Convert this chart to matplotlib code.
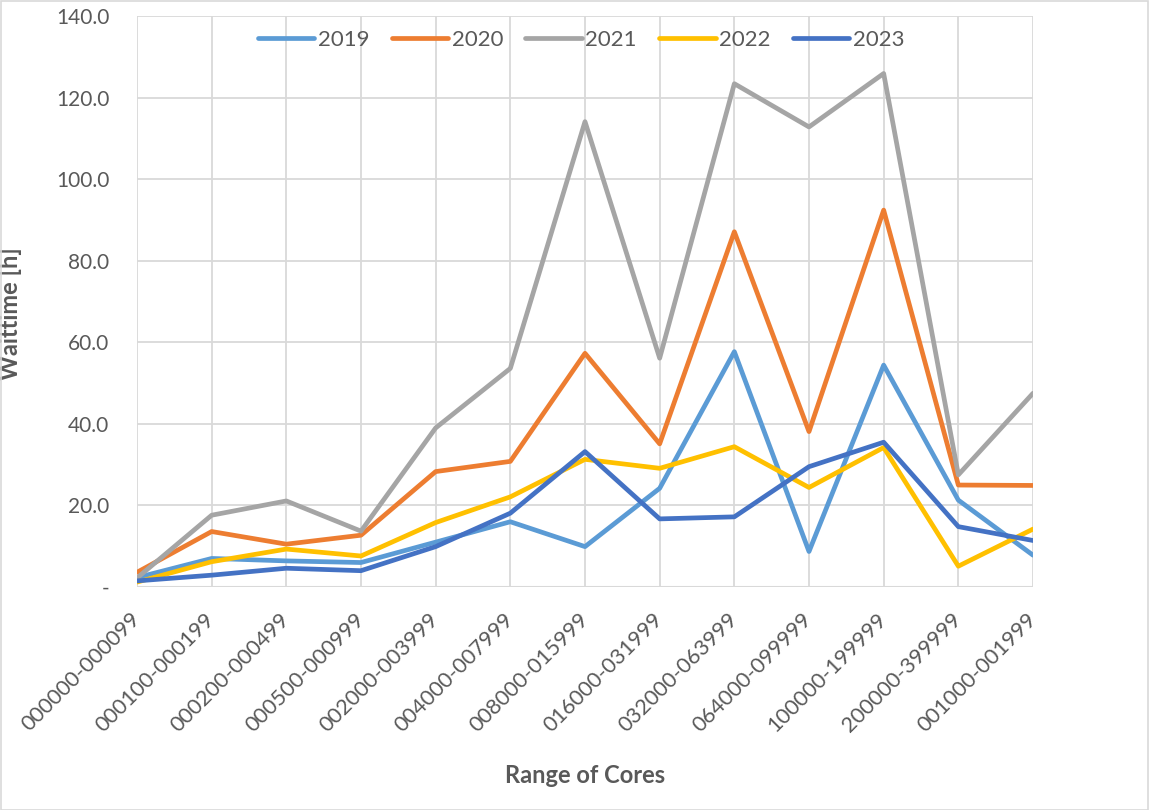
import matplotlib
matplotlib.use("Agg")
import matplotlib.pyplot as plt
from matplotlib.ticker import FuncFormatter

plt.rcParams['font.family'] = ['Lato', 'DejaVu Sans']

categories = ["000000-000099", "000100-000199", "000200-000499", "000500-000999",
              "002000-003999", "004000-007999", "008000-015999", "016000-031999",
              "032000-063999", "064000-099999", "100000-199999", "200000-399999",
              "001000-001999"]

years = ["2019", "2020", "2021", "2022", "2023"]

wait_2019 = [2.3, 7.0, 6.4, 6.0, 11.0, 16.0, 9.9, 24.2, 57.7, 8.7, 54.4, 21.3, 7.8]
wait_2020 = [3.6, 13.6, 10.5, 12.7, 28.3, 30.8, 57.3, 35.1, 87.1, 38.1, 92.4, 25.0, 24.9]
wait_2021 = [2.2, 17.6, 21.1, 13.7, 39.0, 53.6, 114.1, 56.1, 123.4, 112.8, 125.9, 27.5, 47.5]
wait_2022 = [1.2, 6.2, 9.3, 7.6, 15.8, 22.1, 31.3, 29.1, 34.4, 24.4, 34.2, 5.1, 14.2]
wait_2023 = [1.5, 2.9, 4.6, 4.0, 9.9, 18.1, 33.2, 16.7, 17.2, 29.5, 35.5, 14.8, 11.4]

series = [wait_2019, wait_2020, wait_2021, wait_2022, wait_2023]
colors = ["#5B9BD5", "#ED7D31", "#A5A5A5", "#FFC000", "#4472C4"]

W, H = 1149, 810
fig = plt.figure(figsize=(W / 100, H / 100), dpi=100)
fig.patch.set_facecolor("white")

# chart-area border
fig.add_artist(plt.Rectangle((0.5 / W, 0.5 / H), 1 - 1.5 / W, 1 - 1.5 / H,
                             transform=fig.transFigure, fill=False,
                             edgecolor="#D9D9D9", linewidth=1.2))

left, right, top, bottom = 137, 1033, 16, 587
ax = fig.add_axes([left / W, 1 - bottom / H, (right - left) / W, (bottom - top) / H])

x = list(range(len(categories)))
for yr, vals, c in zip(years, series, colors):
    ax.plot(x, vals, color=c, linewidth=3.4, label=yr,
            solid_joinstyle="round", solid_capstyle="round", zorder=3)

ax.set_xlim(0, len(categories) - 1)
ax.set_ylim(0, 140)
ax.set_yticks(range(0, 141, 20))
ax.yaxis.set_major_formatter(FuncFormatter(lambda v, p: "-" if v == 0 else f"{v:.1f}"))
ax.set_xticks(x)
ax.set_xticklabels(categories, rotation=45, ha="right", va="center",
                   rotation_mode="anchor", fontsize=15.7)

ax.grid(True, color="#D9D9D9", linewidth=1.3, zorder=0)
for s in ax.spines.values():
    s.set_visible(False)
ax.tick_params(axis="both", length=0, colors="#595959")
ax.tick_params(axis="y", pad=20, labelsize=15)
ax.tick_params(axis="x", pad=21)
ax.axhline(0, color="#D9D9D9", linewidth=1.5, zorder=1)

ax.set_xlabel("Range of Cores", fontsize=17, fontweight="bold", color="#595959")
ax.set_ylabel("Waittime [h]", fontsize=17, fontweight="bold", color="#595959")
ax.xaxis.set_label_coords((585 - left) / (right - left), -(764 - bottom) / (bottom - top))
ax.yaxis.set_label_coords(-(137 - 22) / (right - left), (bottom - 314) / (bottom - top))

leg = fig.legend(loc="center", bbox_to_anchor=(581 / W, 1 - 40 / H), ncol=5,
                 frameon=False, fontsize=16, handlelength=2.55, handletextpad=0.15,
                 columnspacing=1.0, labelcolor="#595959")

fig.savefig("out.png", dpi=100, facecolor="white")
